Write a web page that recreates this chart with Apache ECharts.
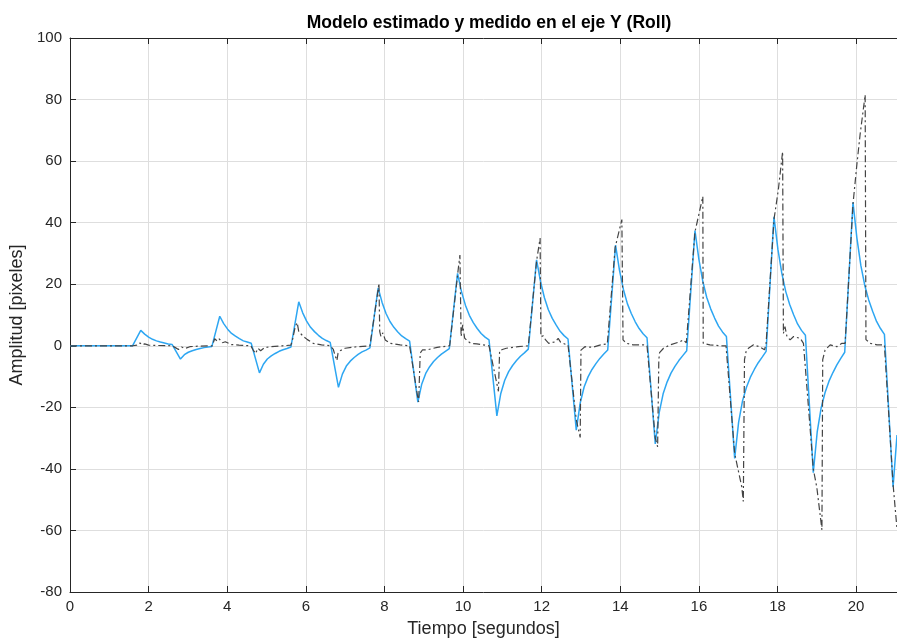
<!DOCTYPE html>
<html>
<head>
<meta charset="utf-8">
<script src="https://cdn.jsdelivr.net/npm/echarts@6/dist/echarts.min.js"></script>
<style>
html,body{margin:0;padding:0;background:#fff;}
#chart{width:897px;height:643px;}
</style>
</head>
<body>
<div id="chart"></div>
<script>
const titulo = 'Modelo estimado y medido en el eje Y (Roll)';
const etiquetaX = 'Tiempo [segundos]';
const etiquetaY = 'Amplitud [pixeles]';
const rangoX = [0, 21.04];
const rangoY = [-80, 100];

// Modelo estimado (azul) [tiempo, amplitud]
const modeloEstimado = [
[0,0],[1.59,0],
[1.80,5.0],[1.90,3.8],[2.00,2.8],[2.10,2.1],[2.20,1.6],[2.30,1.2],[2.40,0.9],[2.50,0.6],[2.60,0.4],
[2.81,-4.3],[2.91,-2.9],[3.01,-2.1],[3.11,-1.6],[3.21,-1.2],[3.31,-0.9],[3.41,-0.6],[3.51,-0.4],[3.61,-0.2],
[3.81,9.6],[3.91,7.2],[4.01,5.4],[4.11,4.0],[4.21,3.1],[4.31,2.3],[4.41,1.6],[4.51,1.2],[4.61,0.8],
[4.82,-8.8],[4.92,-6.0],[5.02,-4.3],[5.12,-3.3],[5.22,-2.5],[5.32,-1.8],[5.42,-1.3],[5.52,-0.9],[5.62,-0.4],
[5.82,14.3],[5.92,10.7],[6.02,8.0],[6.12,6.0],[6.22,4.6],[6.32,3.4],[6.42,2.4],[6.52,1.7],[6.62,1.1],
[6.83,-13.5],[6.93,-9.2],[7.03,-6.6],[7.13,-5.0],[7.23,-3.8],[7.33,-2.8],[7.43,-2.0],[7.53,-1.4],[7.63,-0.7],
[7.84,18.8],[7.94,14.1],[8.04,10.5],[8.14,7.9],[8.24,6.0],[8.34,4.5],[8.44,3.2],[8.54,2.3],[8.64,1.5],
[8.85,-18.3],[8.95,-12.4],[9.05,-9.0],[9.15,-6.8],[9.25,-5.1],[9.35,-3.8],[9.45,-2.7],[9.55,-1.8],[9.65,-0.9],
[9.86,23.5],[9.96,17.6],[10.06,13.2],[10.16,9.9],[10.26,7.5],[10.36,5.6],[10.46,4.0],[10.56,2.8],[10.66,1.9],
[10.86,-22.8],[10.96,-15.5],[11.06,-11.2],[11.16,-8.4],[11.26,-6.4],[11.36,-4.8],[11.46,-3.4],[11.56,-2.3],[11.66,-1.1],
[11.87,27.9],[11.97,20.9],[12.07,15.6],[12.17,11.7],[12.27,8.9],[12.37,6.7],[12.47,4.7],[12.57,3.3],[12.67,2.2],
[12.88,-27.4],[12.98,-18.6],[13.08,-13.4],[13.18,-10.1],[13.28,-7.7],[13.38,-5.8],[13.48,-4.1],[13.58,-2.7],[13.68,-1.4],
[13.88,32.7],[13.98,24.5],[14.08,18.3],[14.18,13.7],[14.28,10.5],[14.38,7.8],[14.48,5.6],[14.58,3.9],[14.68,2.6],
[14.89,-31.9],[14.99,-21.7],[15.09,-15.6],[15.19,-11.8],[15.29,-8.9],[15.39,-6.7],[15.49,-4.8],[15.59,-3.2],[15.69,-1.6],
[15.90,37.4],[16.00,28.1],[16.10,20.9],[16.20,15.7],[16.30,12.0],[16.40,9.0],[16.50,6.4],[16.60,4.5],[16.70,3.0],
[16.91,-36.6],[17.01,-24.9],[17.11,-17.9],[17.21,-13.5],[17.31,-10.2],[17.41,-7.7],[17.51,-5.5],[17.61,-3.7],[17.71,-1.8],
[17.91,41.9],[18.01,31.4],[18.11,23.5],[18.21,17.6],[18.31,13.4],[18.41,10.1],[18.51,7.1],[18.61,5.0],[18.71,3.4],
[18.91,-41.2],[19.01,-28.0],[19.11,-20.2],[19.21,-15.2],[19.31,-11.5],[19.41,-8.7],[19.51,-6.2],[19.61,-4.1],[19.71,-2.1],
[19.92,46.6],[20.02,35.0],[20.12,26.1],[20.22,19.6],[20.32,14.9],[20.42,11.2],[20.52,7.9],[20.62,5.6],[20.72,3.7],
[20.94,-45.9],[21.04,-29.0]
];

// Medición (gris, punto-raya) [tiempo, amplitud]
const medido = [
[0,0],[1.6,0],
[1.7,0.2],[1.78,0.9],[1.84,0.3],[1.9,0.6],[2.0,0.2],[2.2,0.1],[2.6,0],[2.68,-0.6],[2.76,-1.2],[2.84,-0.4],[2.92,-0.9],[3.05,-0.3],[3.3,-0.1],[3.62,0],
[3.68,2.3],[3.75,1.5],[3.8,2.2],[3.88,1.0],[3.95,1.3],[4.1,0.4],[4.3,0.2],[4.6,0],[4.66,-1.4],[4.72,-2.5],[4.78,-0.8],[4.85,-1.6],[4.95,-0.6],[5.1,-0.3],[5.4,0],[5.62,0.2],
[5.66,1.9],[5.73,6.2],[5.78,7.5],[5.82,4.6],[5.86,5.2],[5.94,3.0],[6.04,2.0],[6.19,0.8],[6.4,0.3],[6.62,0],[6.7,-1.2],[6.74,-3.0],[6.79,-4.8],[6.82,-2.4],[6.87,-1.6],[7.0,-0.8],[7.3,-0.3],[7.63,0],
[7.84,18.3],[7.86,20.3],[7.88,4.6],[7.91,3.0],[7.96,4.2],[8.02,1.9],[8.14,0.8],[8.4,0.3],[8.64,0],[8.85,-17.0],[8.87,-18.2],[8.91,-2.4],[8.97,-1.3],[9.1,-1.3],[9.34,-0.5],[9.66,0],
[9.86,23.0],[9.92,29.5],[9.95,3.0],[9.99,6.8],[10.04,2.5],[10.12,1.5],[10.2,0.8],[10.35,0.6],[10.5,0.3],[10.66,0],[10.9,-14.8],[10.93,-1.6],[11.0,-1.2],[11.1,-0.8],[11.4,-0.3],[11.66,0],
[11.87,27.5],[11.96,35.0],[11.98,3.0],[12.04,3.2],[12.1,1.9],[12.18,0.8],[12.35,1.3],[12.42,2.4],[12.48,1.2],[12.6,0.5],[12.67,0.3],[12.88,-24.0],[12.98,-29.8],[13.0,-1.4],[13.1,-0.3],[13.3,-0.5],[13.5,0.3],[13.67,0.6],
[13.87,32.0],[14.04,41.0],[14.07,1.9],[14.16,0.8],[14.33,0.3],[14.59,0.3],[14.68,0],[14.89,-30.0],[14.95,-32.8],[14.98,-4.6],[15.0,-2.2],[15.1,-0.8],[15.27,0.3],[15.52,1.3],[15.6,1.9],[15.68,1.0],
[15.9,37.0],[16.1,48.5],[16.11,0.8],[16.28,0.3],[16.54,0],[16.69,0],[16.91,-35.0],[17.0,-40.4],[17.09,-45.8],[17.13,-50.6],[17.16,-4.5],[17.2,-1.9],[17.26,-0.8],[17.39,0.3],[17.54,-0.3],[17.67,-1.3],[17.71,0.8],
[17.91,41.0],[18.02,50.6],[18.13,63.1],[18.15,4.0],[18.19,6.2],[18.24,3.0],[18.32,1.9],[18.41,3.0],[18.58,2.4],[18.66,0.8],[18.7,0.8],[18.91,-40.0],[19.0,-46.0],[19.13,-59.8],[19.15,-4.5],[19.21,-1.4],[19.34,0.3],[19.51,-0.3],[19.64,0.8],[19.72,0.8],
[19.92,46.0],[20.02,59.0],[20.1,68.5],[20.23,81.5],[20.25,2.0],[20.36,0.8],[20.53,0.3],[20.72,0.3],[20.94,-45.0],[21.04,-59.5]
];

const ejeColor = '#262626';
const rejillaColor = '#DEDEDE';
const fuente = 'Liberation Sans, Arial, sans-serif';

const chart = echarts.init(document.getElementById('chart'), null, {renderer: 'canvas'});
chart.setOption({
  animation: false,
  backgroundColor: '#ffffff',
  title: {
    text: titulo,
    left: 484, top: 9, textAlign: 'center',
    textStyle: {fontFamily: fuente, fontSize: 17.5, fontWeight: 'bold', color: '#000'}
  },
  grid: {left: 70, right: 0, top: 38, bottom: 51, containLabel: false},
  xAxis: [{
    type: 'value', min: rangoX[0], max: rangoX[1], interval: 2,
    name: etiquetaX, nameLocation: 'middle', nameGap: 28,
    nameTextStyle: {fontFamily: fuente, fontSize: 18, color: ejeColor},
    axisLine: {show: true, onZero: false, lineStyle: {color: ejeColor, width: 1}},
    axisTick: {show: true, inside: true, length: 6, lineStyle: {color: ejeColor}},
    axisLabel: {show: true, showMaxLabel: false, margin: 7, fontFamily: fuente, fontSize: 15, color: ejeColor,
      formatter: v => (Math.abs(v / 2 - Math.round(v / 2)) < 1e-6 ? String(v) : '')},
    splitLine: {show: true, lineStyle: {color: rejillaColor, width: 1}}
  }, {
    type: 'value', position: 'top', min: rangoX[0], max: rangoX[1], interval: 2,
    axisLine: {show: true, onZero: false, lineStyle: {color: ejeColor, width: 1}},
    axisTick: {show: true, inside: true, length: 6, lineStyle: {color: ejeColor}},
    axisLabel: {show: false}, splitLine: {show: false}
  }],
  yAxis: {
    type: 'value', min: rangoY[0], max: rangoY[1], interval: 20,
    name: etiquetaY, nameLocation: 'middle', nameGap: 40,
    nameTextStyle: {fontFamily: fuente, fontSize: 18, color: ejeColor},
    axisLine: {show: true, onZero: false, lineStyle: {color: ejeColor, width: 1}},
    axisTick: {show: true, inside: true, length: 6, lineStyle: {color: ejeColor}},
    axisLabel: {margin: 8, fontFamily: fuente, fontSize: 15, color: ejeColor},
    splitLine: {show: true, lineStyle: {color: rejillaColor, width: 1}}
  },
  series: [{
    name: 'Modelo estimado', type: 'line', data: modeloEstimado,
    showSymbol: false, symbol: 'none', smooth: false,
    lineStyle: {color: '#2DA6F2', width: 1.5}, z: 2
  }, {
    name: 'Medido', type: 'line', data: medido,
    showSymbol: false, symbol: 'none', smooth: false,
    lineStyle: {color: '#444444', width: 1.2, type: [7, 3, 2, 3]}, z: 3
  }]
});
</script>
</body>
</html>
